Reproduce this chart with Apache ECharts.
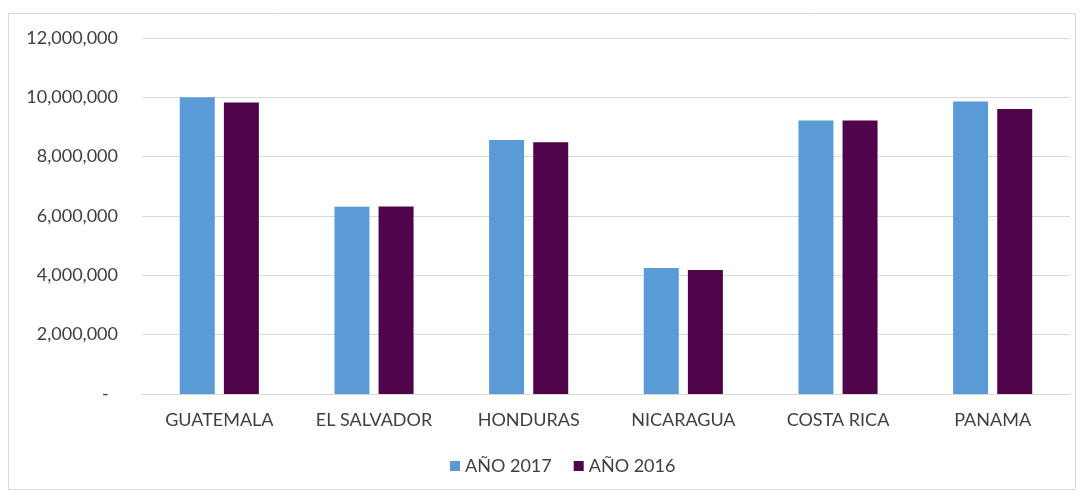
<!DOCTYPE html>
<html><head><meta charset="utf-8">
<script src="https://cdn.jsdelivr.net/npm/echarts@6/dist/echarts.min.js"></script>
<style>html,body{margin:0;padding:0;background:#fff}#c{width:1081px;height:491px}</style>
</head><body><div id="c"></div>
<script>
const categories = ['GUATEMALA','EL SALVADOR','HONDURAS','NICARAGUA','COSTA RICA','PANAMA'];
const ano2017 = [10000000, 6310000, 8560000, 4250000, 9220000, 9860000];
const ano2016 = [9830000, 6320000, 8490000, 4180000, 9220000, 9610000];
const seriesNames = ['AÑO 2017','AÑO 2016'];
const FONT = 'Lato, "Open Sans", sans-serif';
const chart = echarts.init(document.getElementById('c'));
chart.setOption({
  animation:false,
  graphic:[{type:'rect',shape:{x:8.5,y:13.5,width:1067,height:476},style:{fill:'none',stroke:'#d9d9d9',lineWidth:1}}],
  grid:{left:142,right:11,top:38,bottom:97},
  legend:{data:seriesNames,top:452,left:445,itemWidth:10,itemHeight:10,itemGap:22,itemTextGap:5,icon:'rect',
    textStyle:{fontFamily:FONT,fontSize:18,color:'#404040'}},
  xAxis:{type:'category',data:categories,
    axisLine:{lineStyle:{color:'#d9d9d9',width:1}},axisTick:{show:false},
    axisLabel:{fontFamily:FONT,fontSize:18,color:'#404040',margin:17}},
  yAxis:{type:'value',min:0,max:12000000,interval:2000000,
    axisLine:{show:false},axisTick:{show:false},
    splitLine:{lineStyle:{color:'#d9d9d9',width:1}},
    axisLabel:{fontFamily:FONT,fontSize:18,color:'#404040',margin:24,
      formatter:v=> v===0 ? '-  ' : v.toLocaleString('en-US')}},
  series:[
    {name:seriesNames[0],type:'bar',data:ano2017,barWidth:35,barGap:'26%',itemStyle:{color:'#5b9bd5'}},
    {name:seriesNames[1],type:'bar',data:ano2016,barWidth:35,itemStyle:{color:'#500449'}}
  ]
});
</script></body></html>
